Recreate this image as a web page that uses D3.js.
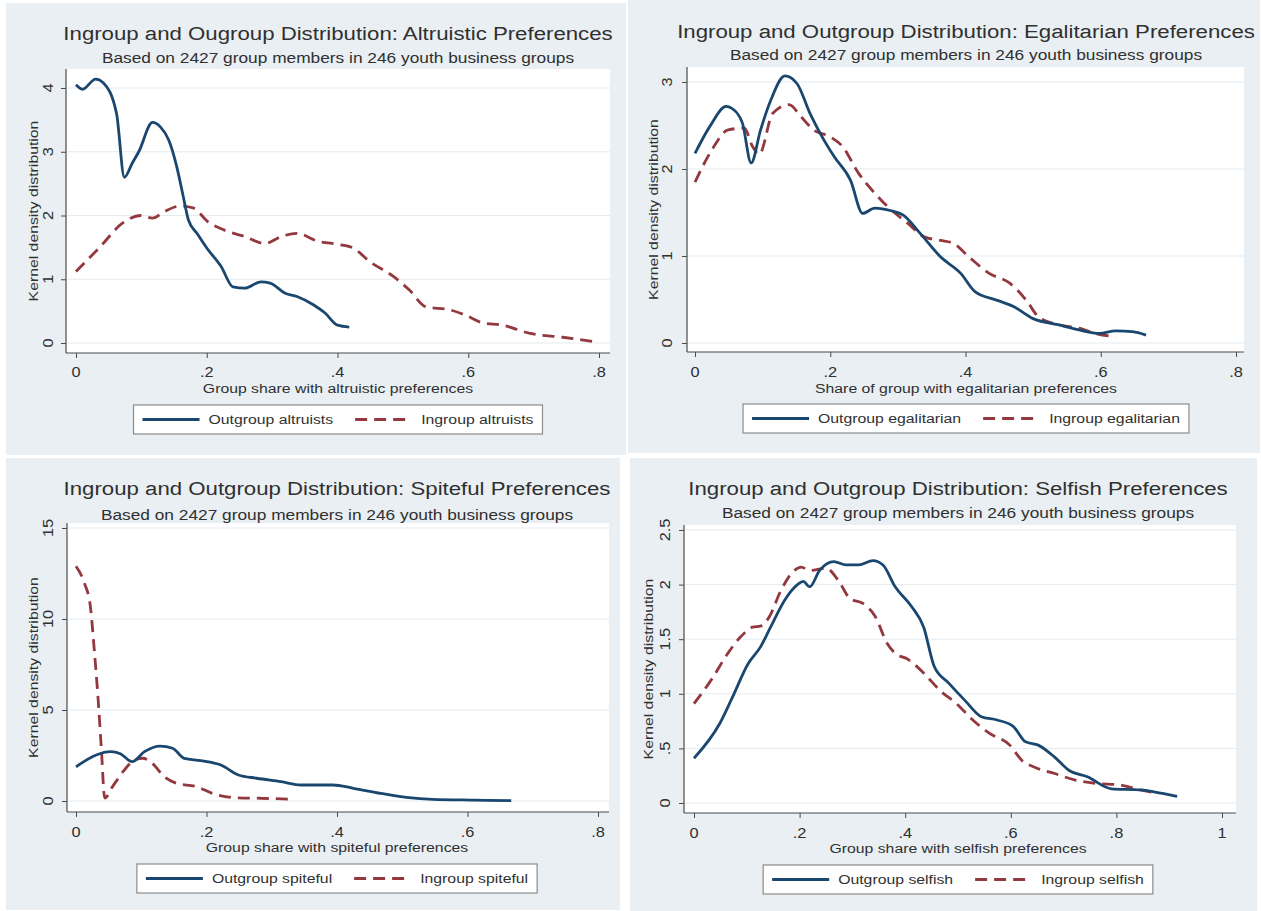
<!DOCTYPE html>
<html>
<head>
<meta charset="utf-8">
<script src="https://cdn.jsdelivr.net/npm/d3@7"></script>
<style>
  html, body { margin: 0; padding: 0; background: #ffffff; }
  svg { display: block; }
</style>
</head>
<body>
<svg id="chart" width="1261" height="911"></svg>
<script>
// ---- Kernel density estimates (x = group share, y = density) ----

// Altruistic preferences
const altruOutX = [0, 0.01, 0.03, 0.042, 0.062, 0.074, 0.086, 0.096, 0.117, 0.129, 0.142, 0.154, 0.163, 0.172, 0.185, 0.2, 0.222, 0.24, 0.258, 0.283, 0.297, 0.32, 0.338, 0.363, 0.381, 0.4, 0.418];
const altruOutY = [4.05, 3.98, 4.14, 4.08, 3.6, 2.6, 2.82, 3.0, 3.46, 3.39, 3.18, 2.77, 2.35, 1.93, 1.72, 1.49, 1.2, 0.88, 0.86, 0.96, 0.94, 0.78, 0.73, 0.6, 0.47, 0.28, 0.25];
const altruInX = [0, 0.037, 0.071, 0.099, 0.117, 0.135, 0.16, 0.179, 0.202, 0.227, 0.258, 0.289, 0.314, 0.338, 0.369, 0.405, 0.424, 0.449, 0.486, 0.51, 0.535, 0.572, 0.595, 0.621, 0.652, 0.695, 0.744, 0.8];
const altruInY = [1.12, 1.51, 1.88, 2.0, 1.96, 2.06, 2.15, 2.12, 1.9, 1.77, 1.67, 1.56, 1.67, 1.72, 1.6, 1.54, 1.49, 1.28, 1.04, 0.83, 0.57, 0.52, 0.44, 0.32, 0.28, 0.15, 0.09, 0.01];

// Egalitarian preferences
const egalOutX = [0, 0.022, 0.046, 0.054, 0.07, 0.083, 0.097, 0.112, 0.133, 0.151, 0.17, 0.188, 0.206, 0.23, 0.248, 0.266, 0.29, 0.308, 0.333, 0.363, 0.393, 0.414, 0.447, 0.471, 0.5, 0.537, 0.568, 0.598, 0.622, 0.647, 0.667];
const egalOutY = [2.18, 2.49, 2.72, 2.7, 2.53, 2.07, 2.45, 2.79, 3.07, 2.98, 2.64, 2.37, 2.14, 1.87, 1.49, 1.55, 1.52, 1.47, 1.26, 0.99, 0.8, 0.59, 0.49, 0.42, 0.28, 0.21, 0.15, 0.11, 0.14, 0.13, 0.09];
const egalInX = [0, 0.025, 0.049, 0.073, 0.085, 0.095, 0.115, 0.139, 0.157, 0.175, 0.2, 0.218, 0.242, 0.266, 0.29, 0.314, 0.339, 0.363, 0.381, 0.405, 0.435, 0.465, 0.49, 0.508, 0.537, 0.568, 0.592, 0.622];
const egalInY = [1.85, 2.22, 2.45, 2.47, 2.26, 2.17, 2.64, 2.74, 2.6, 2.45, 2.37, 2.26, 1.95, 1.72, 1.53, 1.38, 1.22, 1.18, 1.15, 0.99, 0.8, 0.69, 0.49, 0.3, 0.21, 0.17, 0.11, 0.07];

// Spiteful preferences
const spiteOutX = [0, 0.031, 0.053, 0.068, 0.086, 0.105, 0.129, 0.148, 0.166, 0.191, 0.222, 0.249, 0.277, 0.314, 0.345, 0.394, 0.425, 0.467, 0.51, 0.547, 0.609, 0.667];
const spiteOutY = [1.88, 2.53, 2.71, 2.6, 2.16, 2.71, 3.02, 2.9, 2.34, 2.22, 1.98, 1.43, 1.25, 1.06, 0.88, 0.88, 0.7, 0.42, 0.18, 0.09, 0.05, 0.02];
const spiteInX = [0, 0.013, 0.022, 0.028, 0.034, 0.039, 0.044, 0.056, 0.072, 0.086, 0.102, 0.117, 0.135, 0.154, 0.185, 0.209, 0.246, 0.283, 0.332];
const spiteInY = [12.9, 11.96, 10.7, 8.3, 5.55, 2.8, 0.16, 0.79, 1.61, 2.16, 2.35, 2.07, 1.34, 0.97, 0.79, 0.42, 0.18, 0.15, 0.1];

// Selfish preferences
const selfOutX = [0, 0.049, 0.072, 0.103, 0.126, 0.145, 0.172, 0.196, 0.207, 0.219, 0.238, 0.265, 0.288, 0.312, 0.339, 0.358, 0.381, 0.412, 0.435, 0.455, 0.482, 0.513, 0.544, 0.574, 0.605, 0.628, 0.652, 0.683, 0.71, 0.745, 0.791, 0.845, 0.884, 0.915];
const selfOutY = [0.41, 0.73, 0.96, 1.28, 1.43, 1.61, 1.86, 2.0, 2.03, 1.98, 2.13, 2.21, 2.18, 2.18, 2.22, 2.18, 1.98, 1.8, 1.61, 1.25, 1.1, 0.94, 0.79, 0.76, 0.7, 0.56, 0.53, 0.42, 0.3, 0.24, 0.13, 0.12, 0.09, 0.06];
const selfInX = [0, 0.033, 0.064, 0.088, 0.111, 0.126, 0.142, 0.165, 0.188, 0.203, 0.219, 0.25, 0.273, 0.296, 0.319, 0.343, 0.366, 0.381, 0.404, 0.435, 0.466, 0.497, 0.528, 0.559, 0.598, 0.621, 0.644, 0.683, 0.722, 0.76, 0.807, 0.845, 0.876];
const selfInY = [0.91, 1.13, 1.37, 1.52, 1.61, 1.62, 1.7, 1.95, 2.12, 2.16, 2.13, 2.15, 2.04, 1.87, 1.83, 1.71, 1.46, 1.37, 1.32, 1.19, 1.03, 0.91, 0.76, 0.64, 0.53, 0.39, 0.33, 0.27, 0.21, 0.18, 0.165, 0.12, 0.09];

// ---- Tick values ----
const xTicksShare = [0, 0.2, 0.4, 0.6, 0.8];
const xTicksSelfish = [0, 0.2, 0.4, 0.6, 0.8, 1];
const yTicksAltru = [0, 1, 2, 3, 4];
const yTicksEgal = [0, 1, 2, 3];
const yTicksSpite = [0, 5, 10, 15];
const yTicksSelf = [0, 0.5, 1, 1.5, 2, 2.5];

// ---- Text ----
const titles = [
  "Ingroup and Ougroup Distribution: Altruistic Preferences",
  "Ingroup and Outgroup Distribution: Egalitarian Preferences",
  "Ingroup and Outgroup Distribution: Spiteful Preferences",
  "Ingroup and Outgroup Distribution: Selfish Preferences"
];
const subtitle = "Based on 2427 group members in 246 youth business groups";
const xTitles = [
  "Group share with altruistic preferences",
  "Share of group with egalitarian preferences",
  "Group share with spiteful preferences",
  "Group share with selfish preferences"
];
const yTitle = "Kernel density distribution";
const legendOut = ["Outgroup altruists", "Outgroup egalitarian", "Outgroup spiteful", "Outgroup selfish"];
const legendIn = ["Ingroup altruists", "Ingroup egalitarian", "Ingroup spiteful", "Ingroup selfish"];

// ---- Styling ----
const FONT = "'Liberation Sans', Arial, Helvetica, sans-serif";
const SX = 1.17;               // horizontal widening of glyphs (wide sans look)
const BG = "#e9eff3";
const NAVY = "#1a476f";
const MAROON = "#93383f";
const TEXT = "#303030";
const AXIS = "#4a4a4a";
const GRID = "#e4ebef";

// Panel frames (graph region, plot region, text rows)
const panels = [
  { title: titles[0], xTitle: xTitles[0], lo: legendOut[0], li: legendIn[0],
    xTicks: xTicksShare, yTicks: yTicksAltru, xMax: 0.8, yMax: 4,
    out: [altruOutX, altruOutY], inn: [altruInX, altruInY],
    box: [6, 3, 620, 452], axisX: 66, top: 69, axisY: 353, right: 610,
    xr: [76, 599], yr: [343, 88], titleY: 33, subY: 58, tickY: 372, xTitleY: 388,
    legTop: 405, legH: 29, cx: 338, yTickX: 48, yTitleX: 33 },
  { title: titles[1], xTitle: xTitles[1], lo: legendOut[1], li: legendIn[1],
    xTicks: xTicksShare, yTicks: yTicksEgal, xMax: 0.8, yMax: 3,
    out: [egalOutX, egalOutY], inn: [egalInX, egalInY],
    box: [628, 0, 632, 453], axisX: 687, top: 67, axisY: 352, right: 1244,
    xr: [695, 1236], yr: [343, 82], titleY: 31, subY: 55, tickY: 372, xTitleY: 388,
    legTop: 404, legH: 29, cx: 966, yTickX: 667, yTitleX: 653 },
  { title: titles[2], xTitle: xTitles[2], lo: legendOut[2], li: legendIn[2],
    xTicks: xTicksShare, yTicks: yTicksSpite, xMax: 0.8, yMax: 15,
    out: [spiteOutX, spiteOutY], inn: [spiteInX, spiteInY],
    box: [6, 458, 614, 452], axisX: 67, top: 523, axisY: 812, right: 609,
    xr: [76, 598], yr: [801, 528], titleY: 488, subY: 515, tickY: 832, xTitleY: 847,
    legTop: 864, legH: 29, cx: 337, yTickX: 48, yTitleX: 33 },
  { title: titles[3], xTitle: xTitles[3], lo: legendOut[3], li: legendIn[3],
    xTicks: xTicksSelfish, yTicks: yTicksSelf, xMax: 1, yMax: 2.5,
    out: [selfOutX, selfOutY], inn: [selfInX, selfInY],
    box: [630, 458, 627, 453], axisX: 684, top: 525, axisY: 813, right: 1236,
    xr: [694, 1222], yr: [803, 530], titleY: 488, subY: 513, tickY: 833, xTitleY: 848,
    legTop: 865, legH: 29, cx: 958, yTickX: 665, yTitleX: 648 }
];

const fmt = v => v === 0 ? "0" : String(+v.toFixed(2)).replace(/^0\./, ".");

const svg = d3.select("#chart");

function label(g, x, y, str, size, opts = {}) {
  const rot = opts.rotate ? " rotate(-90)" : "";
  return g.append("text")
    .attr("transform", `translate(${x},${y})${rot} scale(${SX},1)`)
    .attr("text-anchor", opts.anchor || "middle")
    .attr("dy", "0.35em")
    .attr("font-family", FONT)
    .attr("font-size", size)
    .attr("fill", opts.fill || TEXT)
    .text(str);
}

panels.forEach(p => {
  const g = svg.append("g");
  const [bx, by, bw, bh] = p.box;

  // graph region and plot region
  g.append("rect").attr("x", bx).attr("y", by).attr("width", bw).attr("height", bh).attr("fill", BG);
  g.append("rect").attr("x", p.axisX).attr("y", p.top)
    .attr("width", p.right - p.axisX).attr("height", p.axisY - p.top).attr("fill", "#ffffff");

  const x = d3.scaleLinear().domain([0, p.xMax]).range(p.xr);
  const y = d3.scaleLinear().domain([0, p.yMax]).range(p.yr);

  // horizontal gridlines
  g.append("g").selectAll("line").data(p.yTicks).join("line")
    .attr("x1", p.axisX + 1).attr("x2", p.right)
    .attr("y1", d => y(d)).attr("y2", d => y(d))
    .attr("stroke", GRID).attr("stroke-width", 1);

  // y axis
  const yAxis = g.append("g").attr("transform", `translate(${p.axisX},0)`)
    .call(d3.axisLeft(y).tickValues(p.yTicks).tickSize(5).tickFormat(fmt));
  yAxis.select(".domain").remove();
  yAxis.selectAll(".tick line").attr("stroke", AXIS);
  yAxis.selectAll(".tick text").remove();
  p.yTicks.forEach(t => label(g, p.yTickX, y(t), fmt(t), 14, { rotate: true }));

  // x axis
  const xAxis = g.append("g").attr("transform", `translate(0,${p.axisY})`)
    .call(d3.axisBottom(x).tickValues(p.xTicks).tickSize(5).tickFormat(fmt));
  xAxis.select(".domain").remove();
  xAxis.selectAll(".tick line").attr("stroke", AXIS);
  xAxis.selectAll(".tick text").remove();
  p.xTicks.forEach(t => label(g, x(t), p.tickY, fmt(t), 14));

  // axis lines
  g.append("line").attr("x1", p.axisX).attr("x2", p.axisX).attr("y1", p.top).attr("y2", p.axisY)
    .attr("stroke", AXIS).attr("stroke-width", 1.2);
  g.append("line").attr("x1", p.axisX).attr("x2", p.right).attr("y1", p.axisY).attr("y2", p.axisY)
    .attr("stroke", AXIS).attr("stroke-width", 1.2);

  // density curves
  const line = d3.line().x(d => x(d[0])).y(d => y(d[1])).curve(d3.curveMonotoneX);
  const outPts = p.out[0].map((v, i) => [v, p.out[1][i]]);
  const inPts = p.inn[0].map((v, i) => [v, p.inn[1][i]]);
  g.append("path").datum(inPts).attr("d", line).attr("fill", "none")
    .attr("stroke", MAROON).attr("stroke-width", 2.8).attr("stroke-dasharray", "12,7");
  g.append("path").datum(outPts).attr("d", line).attr("fill", "none")
    .attr("stroke", NAVY).attr("stroke-width", 2.8).attr("stroke-linejoin", "round");

  // titles
  label(g, p.cx, p.titleY, p.title, 19);
  label(g, p.cx, p.subY, subtitle, 14.8);
  label(g, p.cx, p.xTitleY, p.xTitle, 13.5);
  label(g, p.yTitleX, (p.top + p.axisY) / 2, yTitle, 13.5, { rotate: true });

  // legend
  const leg = g.append("g");
  const box = leg.append("rect").attr("fill", "#ffffff").attr("stroke", "#8c8c8c").attr("stroke-width", 1.2);
  const cy = p.legTop + p.legH / 2;
  const t1 = label(leg, 0, cy, p.lo, 13.5, { anchor: "start" });
  const t2 = label(leg, 0, cy, p.li, 13.5, { anchor: "start" });
  const w1 = t1.node().getComputedTextLength() * SX;
  const w2 = t2.node().getComputedTextLength() * SX;
  const pad = 9, key = 57, gap = 9, between = 22;
  const total = pad + key + gap + w1 + between + key + gap + w2 + pad;
  const lx = p.cx - total / 2;
  box.attr("x", lx).attr("y", p.legTop).attr("width", total).attr("height", p.legH);
  let cur = lx + pad;
  leg.append("line").attr("x1", cur).attr("x2", cur + key).attr("y1", cy).attr("y2", cy)
    .attr("stroke", NAVY).attr("stroke-width", 2.8);
  cur += key + gap;
  t1.attr("transform", `translate(${cur},${cy}) scale(${SX},1)`);
  cur += w1 + between;
  leg.append("line").attr("x1", cur).attr("x2", cur + key).attr("y1", cy).attr("y2", cy)
    .attr("stroke", MAROON).attr("stroke-width", 2.8).attr("stroke-dasharray", "12,7");
  cur += key + gap;
  t2.attr("transform", `translate(${cur},${cy}) scale(${SX},1)`);
});
</script>
</body>
</html>
